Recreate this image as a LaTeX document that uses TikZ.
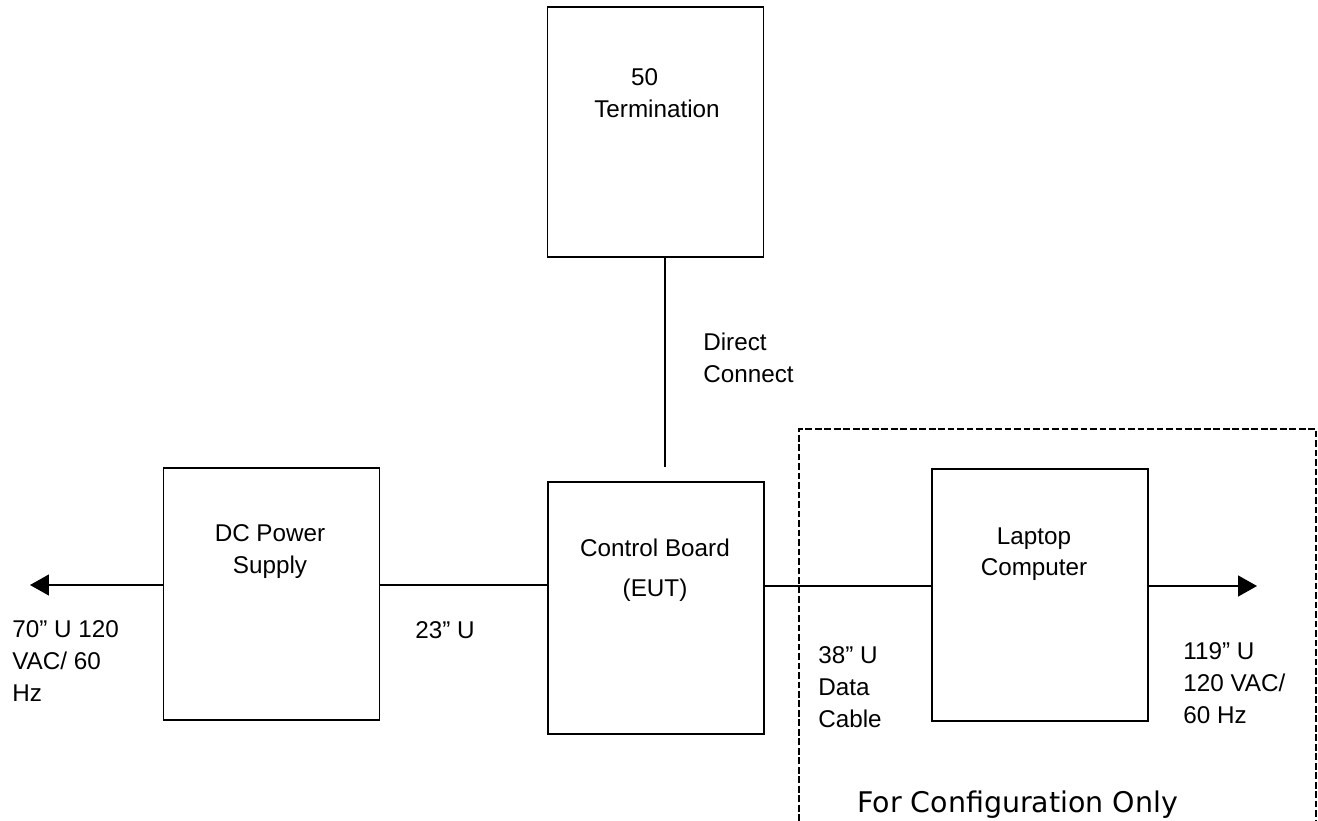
\documentclass[tikz,border=0pt]{standalone}
\usepackage{fontspec}
\setmainfont{Liberation Sans}
\newfontfamily\cfgfont{DejaVu Sans}
\usetikzlibrary{arrows.meta}

\tikzset{
	box/.style={draw, line width=0.85pt, inner sep=0pt, minimum width=4.33cm, minimum height=5.04cm},
	lbl/.style={inner sep=0pt, align=left, anchor=north west},
	clbl/.style={inner sep=0pt, align=center, anchor=north},
	cable/.style={line width=0.8pt},
	feed/.style={cable, -{Triangle[length=0.38cm, width=0.42cm]}},
	cfgframe/.style={line width=0.85pt, dash pattern=on 3.8pt off 1.6pt}
}

\begin{document}
\begin{tikzpicture}[x=0.02cm, y=-0.02cm, font=\fontsize{13.8pt}{18.15pt}\selectfont]
	\useasboundingbox (0,0) rectangle (1318,821);

	% units
	\node[box, minimum height=5cm] (term) at (655.5,132) {};
	\node[box] (dcps) at (271.5,594) {};
	\node[box] (ctrl) at (656,608) {};
	\node[box] (laptop) at (1040,595) {};

	\node[clbl] (term-txt) at (657,68) {\makebox[2.13em][l]{50}\\Termination};
	\node[clbl] (dcps-txt) at (270,524) {DC Power\\Supply};
	\node[clbl] (ctrl-txt) at (655,539) {Control Board\\[0.16cm](EUT)};
	\node[clbl] (laptop-txt) at (1034,527) {Laptop\\Computer};

	% cable ends
	\coordinate (dc-end) at (665,467);
	\coordinate (plug-l) at (30,585);
	\coordinate (plug-r) at (1257,586);

	\draw[cable] (term.south -| dc-end) -- (dc-end);
	\draw[cable] (dcps.east |- plug-l) -- (ctrl.west |- plug-l);
	\draw[cable] (ctrl.east |- plug-r) -- (laptop.west |- plug-r);
	\draw[feed] (dcps.west |- plug-l) -- (plug-l);
	\draw[feed] (laptop.east |- plug-r) -- (plug-r);

	% cable notes
	\node[lbl] (direct) at (703,333) {Direct\\Connect};
	\node[lbl] (mains-l) at (12,620) {70” U 120\\VAC/ 60\\Hz};
	\node[lbl] (run) at (415,621) {23” U};
	\node[lbl] (data) at (818,646) {38” U\\Data\\Cable};
	\node[lbl] (mains-r) at (1183,642) {119” U\\120 VAC/\\60 Hz};

	% setup-only part
	\draw[cfgframe] (799,821) |- (1316,429) -- (1316,821);
	\node[inner sep=0pt, anchor=base west, font=\cfgfont\fontsize{16.2pt}{19pt}\selectfont] (cfg) at (857,812) {For Configuration Only};
\end{tikzpicture}
\end{document}
